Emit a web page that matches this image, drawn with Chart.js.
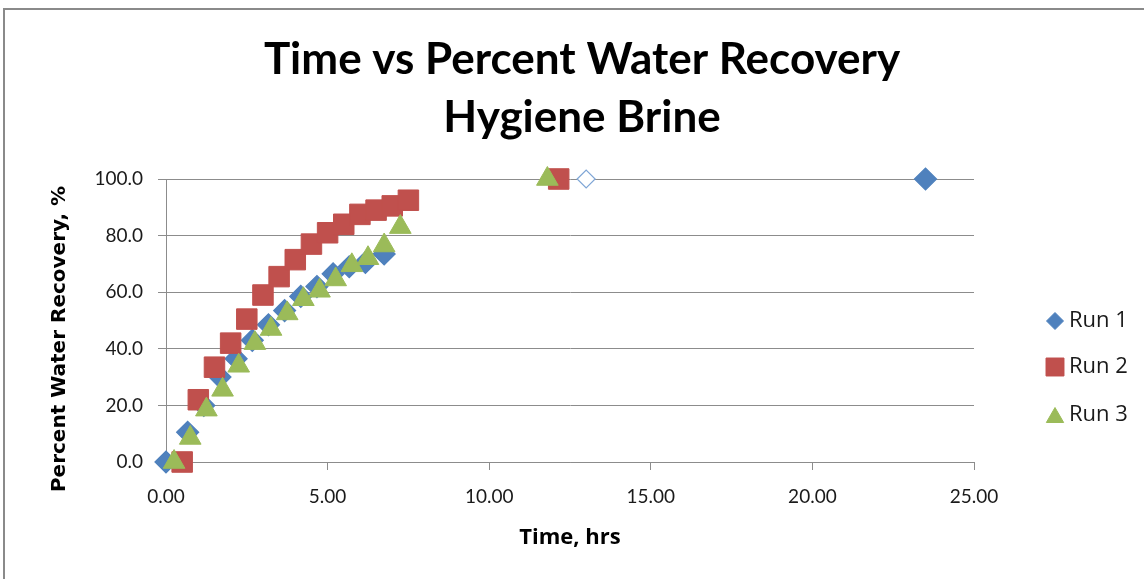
<!DOCTYPE html>
<html>
<head>
<meta charset="utf-8">
<script src="https://cdn.jsdelivr.net/npm/chart.js@4.4.1/dist/chart.umd.min.js"></script>
<style>
  html, body { margin: 0; padding: 0; background: #fff; }
  #wrap { position: relative; width: 1144px; height: 579px; overflow: hidden; }
  #frame { position: absolute; left: 3px; top: 8px; width: 1200px; height: 700px;
           border-top: 2px solid #8a8a8a; border-left: 2px solid #8a8a8a; }
  canvas { position: absolute; left: 0; top: 0; }
</style>
</head>
<body>
<div id="wrap">
  <div id="frame"></div>
  <canvas id="c" width="1144" height="579"></canvas>
</div>
<script>
// ---- data ----
const seriesNames = ["Run 1", "Run 2", "Run 3"];

const run1Time  = [0.0, 0.67, 1.17, 1.67, 2.17, 2.67, 3.17, 3.67, 4.17, 4.67, 5.17, 5.67, 6.17, 6.75, 13.0, 23.5];
const run1Value = [0.0, 10.5, 20.0, 30.0, 36.5, 43.0, 48.5, 53.5, 58.5, 62.0, 66.5, 69.0, 70.5, 73.5, 100.0, 100.0];

const run2Time  = [0.5, 1.0, 1.5, 2.0, 2.5, 3.0, 3.5, 4.0, 4.5, 5.0, 5.5, 6.0, 6.5, 7.0, 7.5, 12.15];
const run2Value = [0.0, 22.0, 33.5, 42.0, 50.5, 59.0, 65.5, 71.5, 77.0, 81.0, 84.0, 87.5, 89.0, 90.5, 92.5, 100.0];

const run3Time  = [0.25, 0.75, 1.25, 1.75, 2.25, 2.75, 3.25, 3.75, 4.25, 4.75, 5.25, 5.75, 6.25, 6.75, 7.25, 11.8];
const run3Value = [0.0, 8.5, 18.5, 25.5, 34.0, 42.0, 47.0, 52.5, 57.5, 60.5, 64.5, 69.5, 72.0, 76.5, 83.0, 100.0];

const titleLines = ["Time vs Percent Water Recovery", "Hygiene Brine"];
const xTitle = "Time, hrs";
const yTitle = "Percent Water Recovery, %";
const xMin = 0, xMax = 25, xStep = 5;
const yMin = 0, yMax = 100, yStep = 20;
const hollowIndex = 14; // Run 1 point shown with an open marker

// ---- styling ----
const BLUE = "#4F81BD", RED = "#C0504D", GREEN = "#9BBB59";
const GRID = "#8c8c8c";
const FONT = "Lato, 'Open Sans', sans-serif";

function pts(xs, ys) { return xs.map((x, i) => ({ x: x, y: ys[i] })); }

const run1Bg = run1Time.map((_, i) => i === hollowIndex ? "#ffffff" : BLUE);
const run1Border = run1Time.map((_, i) => i === hollowIndex ? "#7fa6d6" : BLUE);
const run1Radius = run1Time.map((_, i) => i === hollowIndex ? 9 : 11);

const textPlugin = {
  id: "textAndLegend",
  afterDraw(chart) {
    const ctx = chart.ctx;
    ctx.save();
    // chart title
    ctx.fillStyle = "#000";
    ctx.textAlign = "center";
    ctx.textBaseline = "middle";
    ctx.font = "bold 44px " + FONT;
    ctx.fillText(titleLines[0], 582, 60);
    ctx.fillText(titleLines[1], 582, 118);
    // y-axis title
    ctx.save();
    ctx.translate(60, 339);
    ctx.rotate(-Math.PI / 2);
    ctx.font = "bold 20px 'DejaVu Sans', sans-serif";
    ctx.fillText(yTitle, 0, 0);
    ctx.restore();
    // legend
    const ys = [321, 367, 415];
    const markers = [
      { style: "rectRot", radius: 8.5, color: BLUE },
      { style: "rect", radius: 12.7, color: RED },
      { style: "triangle", radius: 10, color: GREEN }
    ];
    chart.data.datasets.forEach((ds, i) => {
      const m = markers[i];
      ctx.fillStyle = m.color;
      ctx.strokeStyle = m.color;
      ctx.lineWidth = 1;
      const yOff = m.style === "triangle" ? m.radius / 4 : 0;
      Chart.helpers.drawPoint(ctx, { pointStyle: m.style, radius: m.radius, borderWidth: 1, rotation: 0 }, 1055, ys[i] + yOff);
      ctx.fillStyle = "#1a1a1a";
      ctx.font = "22px 'Open Sans', sans-serif";
      ctx.textBaseline = "middle";
      ctx.textAlign = "left";
      ctx.fillText(ds.label, 1069, ys[i]);
    });
    ctx.restore();
  }
};

new Chart(document.getElementById("c"), {
  type: "scatter",
  data: {
    datasets: [
      { label: seriesNames[0], data: pts(run1Time, run1Value), pointStyle: "rectRot", clip: false,
        pointRadius: run1Radius, pointHoverRadius: run1Radius, pointBackgroundColor: run1Bg, pointBorderColor: run1Border,
        pointBorderWidth: 1.2, order: 3 },
      { label: seriesNames[1], data: pts(run2Time, run2Value), pointStyle: "rect", clip: false,
        pointRadius: 14.5, pointHoverRadius: 14.5, pointBackgroundColor: RED, pointBorderColor: RED,
        pointBorderWidth: 1, order: 2 },
      { label: seriesNames[2], data: pts(run3Time, run3Value), pointStyle: "triangle", clip: false,
        pointRadius: 12.5, pointHoverRadius: 12.5, pointBackgroundColor: GREEN, pointBorderColor: GREEN,
        pointBorderWidth: 1, order: 1 }
    ]
  },
  options: {
    responsive: false,
    animation: false,
    devicePixelRatio: 1,
    layout: { padding: { left: 0, right: 170, top: 179, bottom: 0 } },
    plugins: {
      legend: { display: false },
      tooltip: { enabled: false },
      title: { display: false }
    },
    scales: {
      x: {
        type: "linear", min: xMin, max: xMax,
        ticks: { stepSize: xStep, color: "#1a1a1a", font: { family: FONT, size: 19 }, padding: 15,
                 callback: v => Number(v).toFixed(2) },
        grid: { drawOnChartArea: false, drawTicks: true, tickLength: 8, color: GRID, lineWidth: 1 },
        border: { display: true, color: GRID, width: 1 },
        title: { display: true, text: xTitle, color: "#000",
                 font: { family: "'Open Sans', sans-serif", size: 22, weight: "bold", lineHeight: 1.2 }, padding: { top: 0, bottom: 28 } },
        afterFit: s => { s.height = 117; }
      },
      y: {
        type: "linear", min: yMin, max: yMax,
        ticks: { stepSize: yStep, color: "#1a1a1a", font: { family: FONT, size: 19 }, padding: 15,
                 callback: v => Number(v).toFixed(1) },
        grid: { drawOnChartArea: true, drawTicks: true, tickLength: 8, color: GRID, lineWidth: 1 },
        border: { display: true, color: GRID, width: 1 },
        title: { display: false, text: yTitle },
        afterFit: s => { s.width = 166; }
      }
    }
  },
  plugins: [textPlugin]
});
</script>
</body>
</html>
